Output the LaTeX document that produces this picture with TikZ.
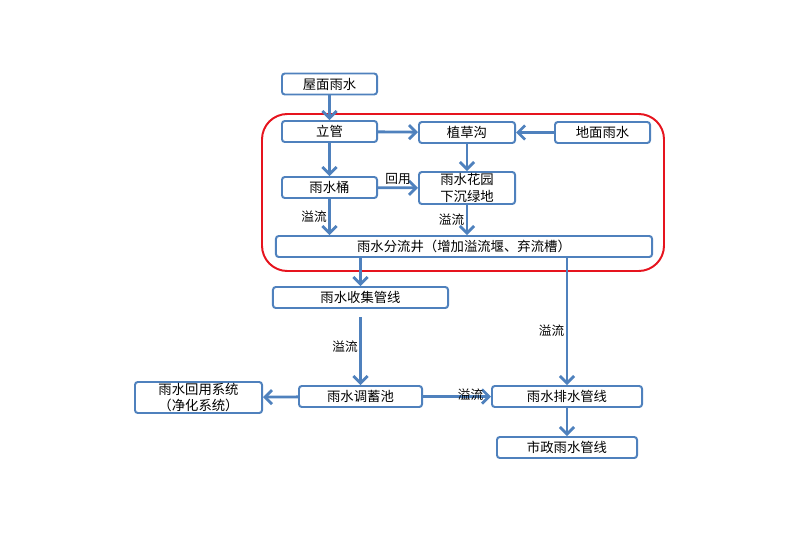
\documentclass[tikz,border=0pt]{standalone}
\usepackage{fontspec}
\setmainfont{Noto Sans CJK SC}
\usepackage{tikz}
\usetikzlibrary{positioning, arrows.meta, calc}
\definecolor{flowblue}{RGB}{79,129,189}
\definecolor{zonered}{RGB}{230,20,30}
\tikzset{box node/.style={draw=flowblue, line width=1.4pt, rounded corners=2pt, fill=white, inner sep=0pt, minimum height=0.525cm, font=\fontsize{9.5}{11.8}\selectfont, align=center},
	flow/.style={draw=flowblue, line width=2pt, -{Straight Barb[length=5pt, width=10pt]}},
	flow label/.style={font=\fontsize{9}{11}\selectfont, inner sep=1pt},}

\begin{document}
\begin{tikzpicture}[x=0.025cm, y=-0.025cm]
				\useasboundingbox (0,0) rectangle (800,533);
				% Zone
				\draw[zonered, line width=1.4pt, rounded corners=18pt] (262,114) rectangle (664,271);
				% Boxes
				\node[box node, minimum width=2.375cm] (roof) at (329.5,84) {屋面雨水};
				\node[box node, minimum width=2.375cm] (riser) at (329.5,131.5) {立管};
				\node[box node, minimum width=2.4cm] (swale) at (467,132.5) {植草沟};
				\node[box node, minimum width=2.375cm] (ground) at (602.5,132.5) {地面雨水};
				\node[box node, minimum width=2.375cm] (barrel) at (329.5,187.5) {雨水桶};
				\node[box node, minimum width=2.4cm, minimum height=0.8cm] (garden) at (467,188) {雨水花园\\下沉绿地};
				\node[box node, minimum width=9.4cm] (split) at (464,246.5) {雨水分流井（增加溢流堰、弃流槽）};
				\node[box node, minimum width=4.375cm] (collect) at (360.5,297.5) {雨水收集管线};
				\node[box node, minimum width=3.075cm] (pond) at (360.5,396.5) {雨水调蓄池};
				\node[box node, minimum width=3.175cm, minimum height=0.775cm] (reuse) at (198.5,397.5) {雨水回用系统\\（净化系统）};
				\node[box node, minimum width=3.75cm] (drain) at (567,396.5) {雨水排水管线};
				\node[box node, minimum width=3.5cm] (city) at (567,447.5) {市政雨水管线};
				% Paths
				\path[flow]
				(roof) edge (riser)
				(riser) edge (swale)
				(ground) edge (swale)
				(riser) edge (barrel)
				(swale) edge (garden)
				(barrel) edge node [flow label, above] {回用} (garden)
				(barrel) edge node [flow label, left] {溢流} (barrel |- split.north)
				(garden) edge node [flow label, left] {溢流} (garden |- split.north)
				(pond) edge (reuse)
				(pond) edge node [flow label, pos=0.7, yshift=1pt] {溢流} (drain)
				(drain) edge (city);
				\draw[flow] (split.south -| collect) -- (collect);
				\draw[flow] (split.south -| drain) -- node [flow label, left, pos=0.57] {溢流} (drain);
				\draw[flow, shorten <=6pt] (collect) -- node [flow label, left] {溢流} (pond);
			\end{tikzpicture}
\end{document}
